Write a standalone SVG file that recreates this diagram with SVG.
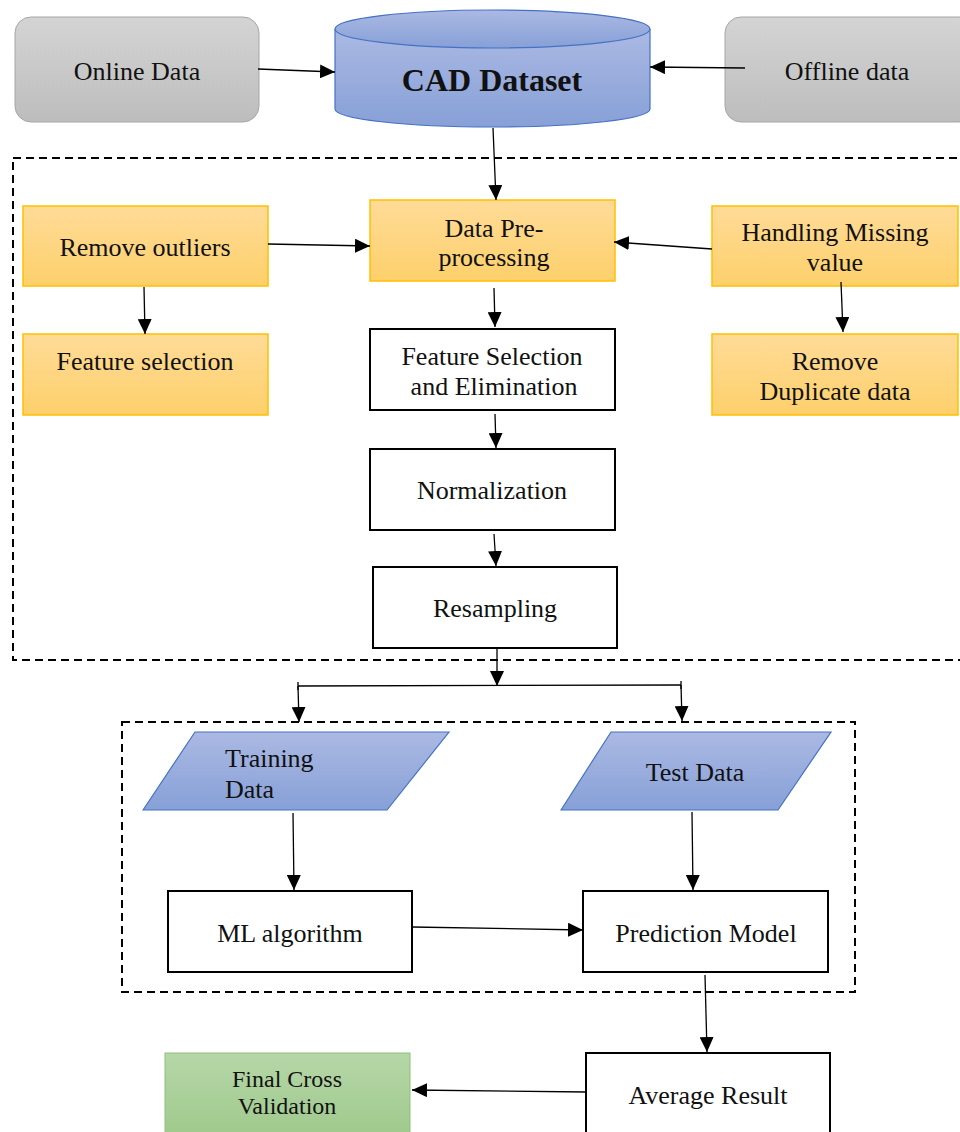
<svg xmlns="http://www.w3.org/2000/svg" width="960" height="1132" viewBox="0 0 960 1132">
<style>
text{font-family:"Liberation Serif","Times New Roman",serif;font-size:26px;fill:#111;text-anchor:middle}
.gray{fill:url(#gGray);stroke:#a6a6a6;stroke-width:1}
.org{fill:url(#gOrg);stroke:#ffc000;stroke-width:1.5}
.wht{fill:#fff;stroke:#000;stroke-width:2}
.blu{fill:url(#gBlue);stroke:#4472c4;stroke-width:1.2}
.grn{fill:url(#gGrn);stroke:#8fbf7a;stroke-width:1}
.dash{fill:none;stroke:#000;stroke-width:2;stroke-dasharray:8,5}
.con line{stroke:#000;stroke-width:1.3}
.arr{marker-end:url(#ah)}
</style>
<defs>
<linearGradient id="gGray" x1="0" y1="0" x2="0" y2="1"><stop offset="0" stop-color="#d4d4d4"/><stop offset="1" stop-color="#bdbdbd"/></linearGradient>
<linearGradient id="gOrg" x1="0" y1="0" x2="0" y2="1"><stop offset="0" stop-color="#ffdb98"/><stop offset="1" stop-color="#fdd06b"/></linearGradient>
<linearGradient id="gBlue" x1="0" y1="0" x2="0" y2="1"><stop offset="0" stop-color="#abb9e3"/><stop offset="1" stop-color="#87a0d7"/></linearGradient>
<linearGradient id="gGrn" x1="0" y1="0" x2="0" y2="1"><stop offset="0" stop-color="#b6d7a8"/><stop offset="1" stop-color="#9dc88a"/></linearGradient>
<marker id="ah" markerUnits="userSpaceOnUse" markerWidth="16" markerHeight="14" refX="15" refY="7" orient="auto"><path d="M0,0 L15,7 L0,14 Z" fill="#000"/></marker>
</defs>

<rect class="dash" x="13" y="158" width="960" height="502"/>
<rect class="dash" x="122" y="722" width="733" height="270"/>

<g id="online"><rect class="gray" x="15" y="17" width="244" height="105" rx="16"/><text x="137" y="80">Online Data</text></g>
<g id="cad">
<path class="blu" d="M335,29 L335,109 A157.5,18 0 0 0 650,109 L650,29"/>
<ellipse class="blu" cx="492.5" cy="29" rx="157.5" ry="19"/>
<text x="492" y="91" style="font-size:32px;font-weight:bold">CAD Dataset</text>
</g>
<g id="offline"><rect class="gray" x="725" y="17" width="250" height="105" rx="16"/><text x="847" y="80">Offline data</text></g>

<g id="outliers"><rect class="org" x="23" y="206" width="245" height="80"/><text x="145" y="256">Remove outliers</text></g>
<g id="featsel"><rect class="org" x="23" y="334" width="245" height="81"/><text x="145" y="370">Feature selection</text></g>
<g id="prep"><rect class="org" x="370" y="200" width="245" height="81"/><text x="494" y="237">Data Pre-</text><text x="494" y="266">processing</text></g>
<g id="missing"><rect class="org" x="712" y="206" width="246" height="80"/><text x="835" y="241">Handling Missing</text><text x="835" y="271">value</text></g>
<g id="dup"><rect class="org" x="712" y="334" width="246" height="81"/><text x="835" y="370">Remove</text><text x="835" y="400">Duplicate data</text></g>

<g id="fse"><rect class="wht" x="370" y="329" width="245" height="81"/><text x="492" y="365">Feature Selection</text><text x="494" y="395">and Elimination</text></g>
<g id="norm"><rect class="wht" x="370" y="449" width="245" height="81"/><text x="492" y="499">Normalization</text></g>
<g id="resamp"><rect class="wht" x="373" y="567" width="244" height="81"/><text x="495" y="617">Resampling</text></g>

<g id="train"><polygon class="blu" points="143,810 195,732 449,732 387,810"/><text x="225" y="767" style="text-anchor:start">Training</text><text x="225" y="798" style="text-anchor:start">Data</text></g>
<g id="test"><polygon class="blu" points="561,810 611,732 831,732 778,810"/><text x="695" y="781">Test Data</text></g>

<g id="ml"><rect class="wht" x="168" y="891" width="244" height="81"/><text x="290" y="942">ML algorithm</text></g>
<g id="pred"><rect class="wht" x="583" y="891" width="245" height="81"/><text x="706" y="942">Prediction Model</text></g>
<g id="avg"><rect class="wht" x="586" y="1053" width="244" height="90"/><text x="708" y="1104">Average Result</text></g>
<g id="final"><rect class="grn" x="165" y="1053" width="245" height="90"/><text x="287" y="1087" style="font-size:24px">Final Cross</text><text x="287" y="1114" style="font-size:24px">Validation</text></g>

<g id="connectors" class="con">
<line class="arr" x1="258" y1="69" x2="335" y2="72"/>
<line class="arr" x1="745" y1="68" x2="650" y2="67"/>
<line class="arr" x1="493" y1="128" x2="496" y2="200"/>
<line class="arr" x1="268" y1="244" x2="370" y2="246"/>
<line class="arr" x1="144" y1="287" x2="145" y2="334"/>
<line class="arr" x1="712" y1="249" x2="614" y2="242"/>
<line class="arr" x1="841" y1="282" x2="843" y2="332"/>
<line class="arr" x1="494" y1="288" x2="495" y2="327"/>
<line class="arr" x1="495" y1="414" x2="496" y2="448"/>
<line class="arr" x1="494" y1="534" x2="496" y2="566"/>
<line class="arr" x1="497" y1="648" x2="497" y2="686"/>
<line x1="298" y1="686" x2="681" y2="685"/>
<line x1="298" y1="682" x2="298" y2="690"/>
<line x1="681" y1="681" x2="681" y2="689"/>
<line class="arr" x1="298" y1="686" x2="299" y2="722"/>
<line class="arr" x1="681" y1="685" x2="682" y2="721"/>
<line class="arr" x1="293" y1="813" x2="294" y2="890"/>
<line class="arr" x1="692" y1="812" x2="693" y2="890"/>
<line class="arr" x1="412" y1="927" x2="583" y2="930"/>
<line class="arr" x1="705" y1="975" x2="707" y2="1052"/>
<line class="arr" x1="586" y1="1092" x2="412" y2="1090"/>
</g>
</svg>
